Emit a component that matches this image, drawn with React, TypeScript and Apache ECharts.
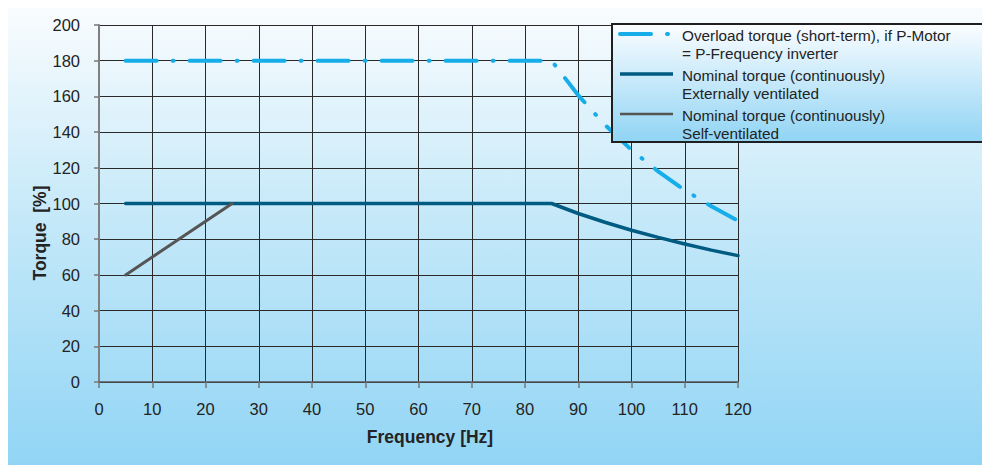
import React, { useEffect, useRef } from "react";
import * as echarts from "echarts";

const overloadFreq = [5, 85, 90, 95, 100, 105, 110, 115, 120];
const overloadVals = [180, 180, 160.6, 144.1, 130, 118, 107.5, 98.4, 90.3];

const externalFreq = [5, 85, 90, 95, 100, 105, 110, 115, 120];
const externalVals = [100, 100, 94.4, 89.5, 85, 81, 77.3, 73.9, 70.8];

const selfFreq = [5, 25];
const selfVals = [60, 100];

const legendLabels = [
  ["Overload torque (short-term), if P-Motor", "= P-Frequency inverter"],
  ["Nominal torque (continuously)", "Externally ventilated"],
  ["Nominal torque (continuously)", "Self-ventilated"],
];

const xTitle = "Frequency [Hz]";
const yTitle = "Torque  [%]";

const FONT = "'Liberation Sans', Arial, Helvetica, sans-serif";
const C_OVER = "#16ade9";
const C_EXT = "#005b82";
const C_SELF = "#555555";
const TEXT = "#232323";

function zip(xs: number[], ys: number[]) {
  return xs.map((x, i) => [x, ys[i]]);
}

export default function App() {
  const ref = useRef<HTMLDivElement>(null);
  useEffect(() => {
    if (!ref.current) return;
    const chart = echarts.init(ref.current, undefined, { renderer: "svg" });
    const lx = 604;
    const ly = 16;
    const rows = [26, 66, 106];
    const lineStyles = [
      { stroke: C_OVER, lineWidth: 4, lineDash: [31, 16, 1, 16], lineCap: "round" },
      { stroke: C_EXT, lineWidth: 3.5 },
      { stroke: C_SELF, lineWidth: 2.5 },
    ];
    const legendElems: any[] = [
      {
        type: "rect",
        shape: { x: lx, y: ly, width: 371, height: 118 },
        style: {
          fill: new echarts.graphic.LinearGradient(0, 0, 0, 1, [
            { offset: 0, color: "#fbfdff" },
            { offset: 1, color: "#90d4f4" },
          ]),
          stroke: "#1f1f1f",
          lineWidth: 2,
        },
        z: 10,
      },
    ];
    rows.forEach((y, i) => {
      legendElems.push({
        type: "line",
        shape: { x1: 612, y1: y, x2: 665, y2: y },
        style: lineStyles[i],
        z: 11,
      });
      legendLabels[i].forEach((t, j) => {
        legendElems.push({
          type: "text",
          x: 674,
          y: y + 1 + j * 18,
          style: {
            text: t,
            fill: TEXT,
            font: `15.3px ${FONT}`,
            verticalAlign: "middle",
            align: "left",
          },
          z: 11,
        });
      });
    });

    chart.setOption({
      animation: false,
      grid: { left: 91, top: 17, width: 639, height: 357, containLabel: false },
      xAxis: {
        type: "value",
        min: 0,
        max: 120,
        interval: 10,
        axisLine: { show: true, lineStyle: { color: "#555", width: 1.5 } },
        axisTick: { show: true, length: 6, lineStyle: { color: "#777", width: 1.5 } },
        axisLabel: { color: TEXT, fontSize: 16.5, fontFamily: FONT, margin: 18 },
        splitLine: { show: true, showMinLine: true, showMaxLine: true, lineStyle: { color: "#2a2a2a", width: 1 } },
      },
      yAxis: {
        type: "value",
        min: 0,
        max: 200,
        interval: 20,
        axisLine: { show: true, lineStyle: { color: "#808080", width: 2 } },
        axisTick: { show: true, length: 5, lineStyle: { color: "#777", width: 1.5 } },
        axisLabel: { color: TEXT, fontSize: 16.5, fontFamily: FONT, margin: 19 },
        splitLine: { show: true, showMinLine: true, showMaxLine: true, lineStyle: { color: "#2a2a2a", width: 1 } },
      },
      series: [
        {
          type: "line",
          data: zip(overloadFreq, overloadVals),
          showSymbol: false,
          symbol: "none",
          lineStyle: { color: C_OVER, width: 4, type: [31, 16, 1, 16], cap: "round" },
          z: 3,
        },
        {
          type: "line",
          data: zip(externalFreq, externalVals),
          showSymbol: false,
          symbol: "none",
          lineStyle: { color: C_EXT, width: 3.5, cap: "round" },
          z: 4,
        },
        {
          type: "line",
          data: zip(selfFreq, selfVals),
          showSymbol: false,
          symbol: "none",
          lineStyle: { color: C_SELF, width: 3, cap: "round" },
          z: 5,
        },
      ],
      graphic: [
        {
          type: "text",
          x: 32,
          y: 225,
          rotation: Math.PI / 2,
          style: {
            text: yTitle,
            fill: TEXT,
            font: `bold 17.5px ${FONT}`,
            align: "center",
            verticalAlign: "middle",
          },
        },
        {
          type: "text",
          x: 422,
          y: 429,
          style: {
            text: xTitle,
            fill: TEXT,
            font: `bold 17.5px ${FONT}`,
            align: "center",
            verticalAlign: "middle",
          },
        },
        ...legendElems,
      ],
    });
    return () => chart.dispose();
  }, []);
  return (
    <div
      ref={ref}
      style={{
        width: 982,
        height: 457,
        background: "linear-gradient(to bottom, #f9fcfe 0%, #c6e9f9 45%, #91d5f5 100%)",
      }}
    />
  );
}
